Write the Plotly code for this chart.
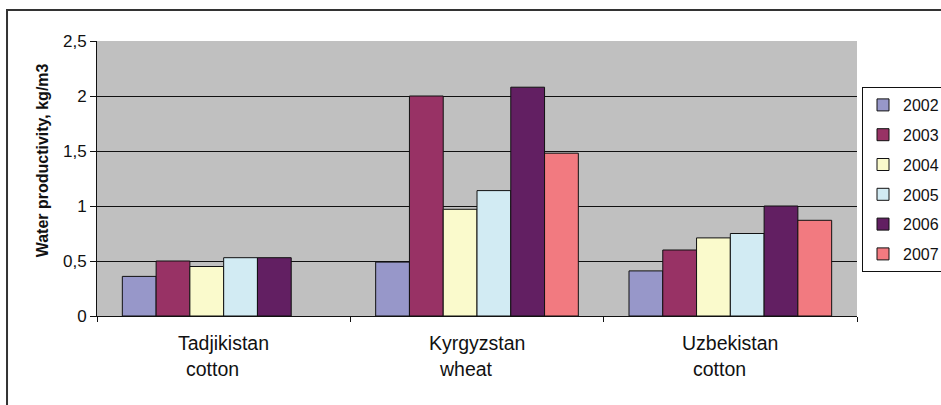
import plotly.graph_objects as go

categories = ["Tadjikistan", "Kyrgyzstan", "Uzbekistan"]
crops = ["cotton", "wheat", "cotton"]
years = ["2002", "2003", "2004", "2005", "2006", "2007"]
v2002 = [0.36, 0.49, 0.41]
v2003 = [0.50, 2.00, 0.60]
v2004 = [0.45, 0.97, 0.71]
v2005 = [0.53, 1.14, 0.75]
v2006 = [0.53, 2.08, 1.00]
v2007 = [None, 1.48, 0.87]
series = [v2002, v2003, v2004, v2005, v2006, v2007]
colors = ["#9797C9", "#983265", "#FAFACC", "#D2EBF3", "#621F62", "#F27A80"]
ytickvals = [0, 0.5, 1, 1.5, 2, 2.5]
yticktext = ["0", "0,5", "1", "1,5", "2", "2,5"]

FONT = "Liberation Sans, Arial, sans-serif"
TXT = "#111111"

fig = go.Figure()
for name, vals, col in zip(years, series, colors):
    fig.add_trace(go.Bar(
        x=categories, y=vals, name=name, legendgroup=name,
        marker=dict(color=col, line=dict(color="#111111", width=1)),
    ))

annotations = []
for cat, crop in zip(categories, crops):
    annotations.append(dict(x=cat, xref="x", y=-0.098, yref="paper", text=cat,
                            showarrow=False, font=dict(family=FONT, size=19.5, color=TXT),
                            xanchor="center", yanchor="middle"))
    annotations.append(dict(x=cat, xref="x", y=-0.193, yref="paper", text=crop,
                            showarrow=False, font=dict(family=FONT, size=19.5, color=TXT),
                            xanchor="center", yanchor="middle", xshift=-11))
annotations.append(dict(x=-0.072, xref="paper", y=0.567, yref="paper",
                        text="<b>Water productivity, kg/m3</b>", textangle=-90,
                        showarrow=False, font=dict(family=FONT, size=16, color=TXT),
                        xanchor="center", yanchor="middle"))

fig.update_layout(
    width=941, height=405,
    margin=dict(l=97, r=84, t=41, b=89, autoexpand=False),
    paper_bgcolor="white", plot_bgcolor="#C0C0C0",
    barmode="group", bargap=0.2, bargroupgap=0,
    font=dict(family=FONT, size=17, color=TXT),
    showlegend=True,
    legend=dict(xref="container", yref="container", x=862 / 941, y=1 - 87 / 405,
                xanchor="left", yanchor="top",
                bgcolor="white", bordercolor="#111", borderwidth=1,
                font=dict(family=FONT, size=16, color=TXT),
                tracegroupgap=6, itemwidth=30,
                traceorder="grouped"),
    annotations=annotations,
    shapes=[dict(type="rect", xref="paper", yref="paper",
                 x0=-0.1184, x1=1.3, y0=-0.6, y1=1.1127,
                 line=dict(color="#333333", width=2), fillcolor="rgba(0,0,0,0)")],
)
fig.update_xaxes(showticklabels=False, ticks="outside", tickson="boundaries",
                 ticklen=5, tickcolor="#111", showline=True, linecolor="#111",
                 linewidth=1, showgrid=False)
fig.update_yaxes(range=[0, 2.5], tickvals=ytickvals, ticktext=yticktext,
                 ticks="outside", ticklen=6, tickcolor="#111", showline=True,
                 linecolor="#111", linewidth=1, showgrid=True, gridcolor="#111",
                 gridwidth=1, zeroline=False,
                 tickfont=dict(family=FONT, size=17, color=TXT))

fig.write_html("out.html", config={"displayModeBar": False},
               post_script="document.body.style.margin='0';")
